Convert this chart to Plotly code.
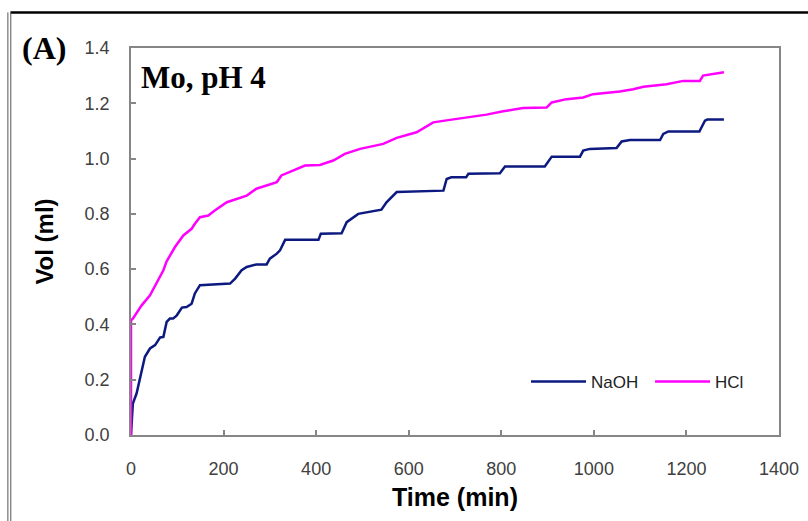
import plotly.graph_objects as go

## Data ##
naoh_time = [0, 2, 4, 12, 19, 30, 41, 52, 63, 70, 77, 84, 91, 99, 110, 120, 131, 138, 149,
             214, 225, 239, 250, 271, 293, 300, 315, 322, 333, 405, 410, 455, 466, 491, 541,
             552, 574, 675, 682, 692, 724, 729, 797, 808, 894, 909, 970, 977, 991, 1049,
             1060, 1078, 1143, 1150, 1161, 1228, 1240, 1245, 1281]
naoh_vol = [0, 0.08, 0.114, 0.15, 0.2, 0.283, 0.313, 0.325, 0.353, 0.355, 0.409, 0.421, 0.421,
            0.433, 0.461, 0.463, 0.475, 0.512, 0.542, 0.548, 0.566, 0.596, 0.608, 0.617,
            0.617, 0.638, 0.656, 0.668, 0.706, 0.706, 0.728, 0.73, 0.77, 0.80, 0.815, 0.842,
            0.879, 0.884, 0.926, 0.932, 0.932, 0.945, 0.947, 0.971, 0.971, 1.007, 1.007,
            1.029, 1.035, 1.038, 1.062, 1.067, 1.067, 1.089, 1.098, 1.098, 1.137, 1.141, 1.141]

hcl_time = [0, 0, 4, 23, 41, 55, 70, 77, 95, 113, 131, 138, 149, 167, 181, 207, 228, 250, 271,
            293, 315, 325, 351, 365, 376, 408, 437, 462, 495, 545, 574, 617, 653, 689, 732,
            768, 804, 847, 898, 909, 941, 977, 998, 1056, 1085, 1107, 1157, 1193, 1229, 1236,
            1281]
hcl_vol = [0, 0.415, 0.421, 0.469, 0.505, 0.548, 0.596, 0.628, 0.68, 0.722, 0.746, 0.764,
           0.788, 0.794, 0.812, 0.842, 0.854, 0.866, 0.891, 0.903, 0.915, 0.939, 0.957, 0.969,
           0.975, 0.977, 0.993, 1.017, 1.035, 1.053, 1.075, 1.095, 1.131, 1.140, 1.149, 1.159,
           1.171, 1.183, 1.185, 1.203, 1.215, 1.221, 1.233, 1.243, 1.251, 1.26, 1.269, 1.281,
           1.281, 1.30, 1.312]

fig = go.Figure()
fig.add_trace(go.Scatter(x=naoh_time, y=naoh_vol, mode="lines", name="NaOH", legend="legend",
                         line=dict(color="#0c1a80", width=2.5)))
fig.add_trace(go.Scatter(x=hcl_time, y=hcl_vol, mode="lines", name="HCl", legend="legend2",
                         line=dict(color="#ff00ff", width=2.5)))

axis_style = dict(showline=True, linecolor="#868686", linewidth=1.5, mirror=True,
                  ticks="inside", ticklen=5, tickcolor="#868686", tickwidth=1.5,
                  showgrid=False, zeroline=False, automargin=False,
                  tickfont=dict(family="Liberation Sans, Arial", size=18, color="#404040"))

fig.update_xaxes(range=[0, 1400], dtick=200, ticklabelstandoff=17,
                 title=dict(text="<b>Time (min)</b>", standoff=10,
                            font=dict(family="Liberation Sans, Arial", size=25, color="black")),
                 **axis_style)
fig.update_yaxes(range=[0, 1.4], dtick=0.2, tickformat=".1f", ticklabelstandoff=16,
                 title=dict(text="<b>Vol (ml)</b>", standoff=24,
                            font=dict(family="Liberation Sans, Arial", size=24, color="black")),
                 **axis_style)

## outer frame (cut off at right and bottom) ##
fig.add_shape(type="line", xref="paper", yref="paper", x0=-0.186, x1=1.2, y0=1.092, y1=1.092,
              line=dict(color="black", width=2.5))
fig.add_shape(type="line", xref="paper", yref="paper", x0=-0.190, x1=-0.190, y0=1.092, y1=-0.3,
              line=dict(color="#555555", width=1))
fig.add_shape(type="line", xref="paper", yref="paper", x0=-0.1855, x1=-0.1855, y0=1.092, y1=-0.3,
              line=dict(color="#555555", width=1))

fig.add_annotation(text="<b>(A)</b>", xref="paper", yref="paper", x=-0.171, y=1.0,
                   xanchor="left", yanchor="middle", showarrow=False,
                   font=dict(family="Liberation Serif, Times New Roman", size=32, color="black"))
fig.add_annotation(text="<b>Mo, pH 4</b>", xref="paper", yref="paper", x=0.013, y=0.925,
                   xanchor="left", yanchor="middle", showarrow=False,
                   font=dict(family="Liberation Serif, Times New Roman", size=31, color="black"))

leg_style = dict(orientation="h", y=0.137, xanchor="left", yanchor="middle",
                 bgcolor="rgba(0,0,0,0)", itemwidth=55,
                 font=dict(family="Liberation Sans, Arial", size=17, color="#222222"))

fig.update_layout(
    width=808, height=521,
    margin=dict(l=131, r=29, t=48, b=86),
    paper_bgcolor="white", plot_bgcolor="white",
    showlegend=True,
    legend=dict(x=0.6096, **leg_style),
    legend2=dict(x=0.801, **leg_style),
)

fig.write_html("out.html", config={"displayModeBar": False},
               post_script="document.body.style.margin='0';")
